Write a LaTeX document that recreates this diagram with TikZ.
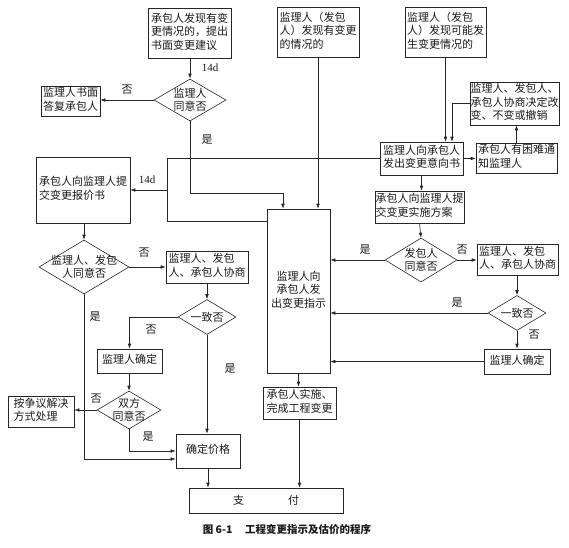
\documentclass[tikz,border=0pt]{standalone}
\usepackage{fontspec}
\setmainfont{Noto Sans CJK SC}
\newfontfamily\latf{Liberation Serif}
\usetikzlibrary{arrows.meta,shapes.geometric}
\newcommand{\cjkfs}{\fontsize{11}{13.5}\selectfont}
\newcommand{\dtxt}[1]{\makebox[0pt]{\raisebox{-4.2pt}[0pt][0pt]{\begin{tabular}{@{}c@{}}#1\end{tabular}}}}
\newcommand{\btxt}[1]{\begin{tabular}{@{}l@{}}#1\end{tabular}}
\newcommand{\ctxt}[1]{\begin{tabular}{@{}c@{}}#1\end{tabular}}
\begin{document}
\begin{tikzpicture}[x=1pt,y=-1pt,line width=0.6pt,
  box/.style={draw=black!85, rectangle, inner sep=0pt, font=\cjkfs, text=black!90},
  dia/.style={draw=black!85, diamond, inner sep=0pt, font=\cjkfs, text=black!90},
  lab/.style={inner sep=0pt, font=\cjkfs, text=black!90},
  arr/.style={draw=black!85, -{Latex[length=5pt,width=3.6pt]}},
  ln/.style={draw=black!85}]
\useasboundingbox (0,0) rectangle (569,547);

% boxes
\node[box, minimum width=83pt, minimum height=50pt] (B1) at (189.5,33) {\btxt{承包人发现有变\\更情况的，提出\\书面变更建议}};
\node[box, minimum width=82pt, minimum height=50pt] (B2) at (318,32) {\btxt{监理人（发包\\人）发现有变更\\的情况的}};
\node[box, minimum width=81pt, minimum height=50pt] (B3) at (445.5,32) {\btxt{监理人（发包\\人）发现可能发\\生变更情况的}};
\node[dia, minimum width=72pt, minimum height=42pt] (D1) at (190,100) {\dtxt{监理人\\同意否}};
\node[box, minimum width=59pt, minimum height=30pt] (B4) at (70.5,101) {\btxt{监理人书面\\答复承包人}};
\node[box, minimum width=94pt, minimum height=66pt] (B5) at (83,190) {\btxt{承包人向监理人提\\交变更报价书}};
\node[box, minimum width=83pt, minimum height=33pt] (B6) at (421.5,158.5) {\btxt{监理人向承包人\\发出变更意向书}};
\node[box, minimum width=89pt, minimum height=43pt] (B7) at (514.5,103.5) {\btxt{监理人、发包人、\\承包人协商决定改\\变、不变或撤销}};
\node[box, minimum width=81pt, minimum height=30pt] (B8) at (516.5,158) {\btxt{承包人有困难通\\知监理人}};
\node[box, minimum width=63pt, minimum height=164pt] (BB) at (298.5,291) {\ctxt{监理人向\\承包人发\\出变更指示}};
\node[box, minimum width=89pt, minimum height=32pt] (B9) at (419.5,207) {\btxt{承包人向监理人提\\交变更实施方案}};
\node[dia, minimum width=72pt, minimum height=44pt] (D2) at (421,260) {\dtxt{发包人\\同意否}};
\node[box, minimum width=81pt, minimum height=31pt] (B10) at (517.5,259.5) {\btxt{监理人、发包\\人、承包人协商}};
\node[dia, minimum width=58pt, minimum height=35pt] (D3) at (517,313) {\dtxt{一致否}};
\node[box, minimum width=66pt, minimum height=25pt] (B11) at (517,361.5) {\btxt{监理人确定}};
\node[box, minimum width=73pt, minimum height=32pt] (B12) at (299.5,403) {\btxt{承包人实施、\\完成工程变更}};
\node[box, minimum width=154pt, minimum height=25pt] (PAY) at (266,500.5) {支\hspace{44pt}付};
\node[dia, minimum width=90pt, minimum height=54pt] (D4) at (84,267) {\dtxt{监理人、发包\\人同意否}};
\node[box, minimum width=82pt, minimum height=32pt] (B13) at (207,267) {\btxt{监理人、发包\\人、承包人协商}};
\node[dia, minimum width=58pt, minimum height=35pt] (D5) at (207,317) {\dtxt{一致否}};
\node[box, minimum width=65pt, minimum height=24pt] (B14) at (129.5,361) {\btxt{监理人确定}};
\node[dia, minimum width=64pt, minimum height=38pt] (D6) at (129,410) {\dtxt{双方\\同意否}};
\node[box, minimum width=66pt, minimum height=31pt] (B16) at (41,411.5) {\btxt{按争议解决\\方式处理}};
\node[box, minimum width=64pt, minimum height=34pt] (B15) at (208,451) {\btxt{确定价格}};

% labels
\node[lab] (L1) at (210,68) {\latf 14d};
\node[lab] (L2) at (127,90) {否};
\node[lab] (L3) at (207,140) {是};
\node[lab] (L4) at (147,180) {\latf 14d};
\node[lab] (L5) at (144,253) {否};
\node[lab] (L6) at (95,317) {是};
\node[lab] (L7) at (151,330) {否};
\node[lab] (L8) at (230,369) {是};
\node[lab] (L9) at (96,399) {否};
\node[lab] (L10) at (148,437) {是};
\node[lab] (L11) at (365,250) {是};
\node[lab] (L12) at (462,250) {否};
\node[lab] (L13) at (457,303) {是};
\node[lab] (L14) at (534,335) {否};
\node[lab, font=\fontsize{10.5}{12}\selectfont\bfseries] (CAP) at (287,529) {图 6-1\hspace{1.2em}工程变更指示及估价的程序};

% connectors
\coordinate (j1) at (167,190);
\draw[arr] (D1.north |- B1.south) -- (D1.north);
\draw[arr] (D1.west) -- (D1.west -| B4.east);
\draw[arr] (D1.south) |- (283,193) -- (283,193 |- BB.north);
\draw[arr] (B2.south) -- (B2.south |- BB.north);
\draw[arr] (B3.south) -- (B3.south |- B6.north);
\draw[arr] (B7.west) -| (452,0 |- B6.north);
\draw[arr] (B6.east) -- (B6.east -| B8.west);
\draw[arr] (B8.north) -- (B8.north |- B7.south);
\draw[arr] (B6.south) -- (B6.south |- B9.north);
\draw[ln] (B6.west) -| (167,221) -- (167,221 -| BB.west);
\draw[arr] (j1) -- (j1 -| B5.east);
\draw[arr] (B9.south) -- (D2.north);
\draw[arr] (D2.west) -- (D2.west -| BB.east);
\draw[arr] (D2.east) -- (D2.east -| B10.west);
\draw[arr] (D3.north |- B10.south) -- (D3.north);
\draw[arr] (D3.west) -- (D3.west -| BB.east);
\draw[arr] (D3.south) -- (B11.north);
\draw[arr] (B11.west) -- (B11.west -| BB.east);
\draw[arr] (BB.south) -- (BB.south |- B12.north);
\draw[arr] (B12.south) -- (B12.south |- PAY.north);
\draw[arr] (D4.north |- B5.south) -- (D4.north);
\draw[arr] (D4.east) -- (D4.east -| B13.west);
\draw[arr] (B13.south) -- (D5.north);
\draw[arr] (D5.west) -| (B14.north);
\draw[arr] (D5.south) -- (D5.south |- B15.north);
\draw[arr] (D6.north |- B14.south) -- (D6.north);
\draw[arr] (D6.west) -- (D6.west -| B16.east);
\draw[arr] (D6.south) |- (B15.west);
\draw[arr] (D4.south) |- ([yshift=-8pt]B15.west);
\draw[arr] (B15.south) -- (B15.south |- PAY.north);
\end{tikzpicture}
\end{document}
